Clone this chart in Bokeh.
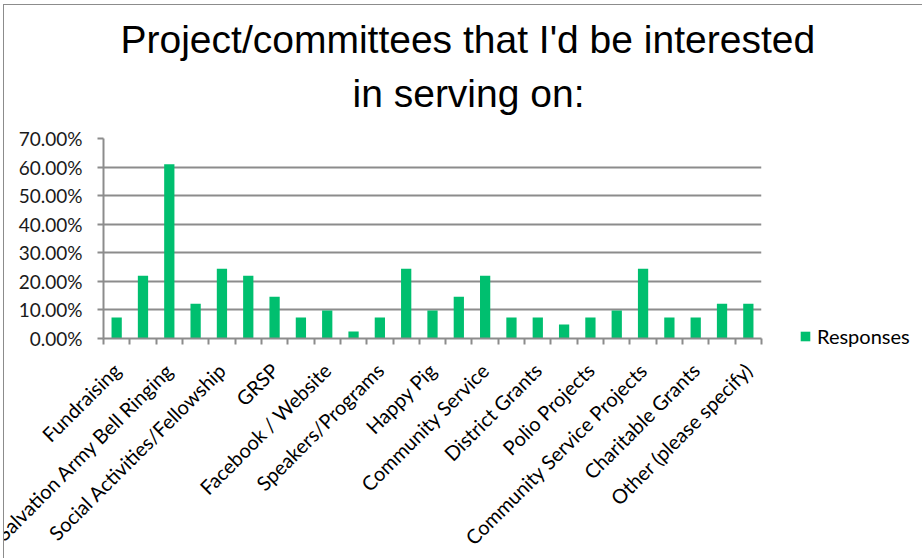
from math import pi
from bokeh.plotting import figure
from bokeh.models import (ColumnDataSource, FixedTicker, NumeralTickFormatter,
                          Legend, LegendItem, Range1d, Title)
from bokeh.embed import file_html
from bokeh.resources import INLINE

# ---- data ----
positions = list(range(1, 26))
responses = [0.0732, 0.2195, 0.6098, 0.1220, 0.2439, 0.2195, 0.1463, 0.0732,
             0.0976, 0.0244, 0.0732, 0.2439, 0.0976, 0.1463, 0.2195, 0.0732,
             0.0732, 0.0488, 0.0732, 0.0976, 0.2439, 0.0732, 0.0732, 0.1220,
             0.1220]
label_positions = list(range(1, 26, 2))
tick_labels = ["Fundraising", "Salvation Army Bell Ringing",
               "Social Activities/Fellowship", "GRSP", "Facebook / Website",
               "Speakers/Programs", "Happy Pig", "Community Service",
               "District Grants", "Polio Projects", "Community Service Projects",
               "Charitable Grants", "Other (please specify)"]
y_ticks = [0.0, 0.1, 0.2, 0.3, 0.4, 0.5, 0.6, 0.7]
series_name = "Responses"
title_line1 = "Project/committees that I'd be interested"
title_line2 = "in serving on:"

GREEN = "#00BF6F"
GREY = "#8c8c8c"
BODY_FONT = "Lato"

src = ColumnDataSource(dict(x=positions, top=responses))

p = figure(frame_width=658, frame_height=200,
           x_range=Range1d(0.5, 25.5), y_range=Range1d(0, 0.7),
           output_backend="svg", toolbar_location=None,
           min_border_left=99, min_border_right=154, min_border_top=133,
           min_border_bottom=219)
p.styles = {"border": "1px solid #8c8c8c"}
p.margin = (4, 0, 0, 3)
p.outline_line_color = None

r = p.vbar(x="x", top="top", width=0.39, source=src, fill_color=GREEN, line_color=None)

# title (two lines, nearest line added first)
def make_title(text, offset, standoff):
    return Title(text=text, align="left", offset=offset, standoff=standoff,
                 text_font="Liberation Sans", text_font_size="39px",
                 text_font_style="normal", text_color="black")

p.title = None
p.add_layout(make_title(title_line2, 249, 48), "above")
p.add_layout(make_title(title_line1, 17, -30), "above")

# x axis
xa = p.xaxis[0]
xa.ticker = FixedTicker(ticks=label_positions, minor_ticks=[i + 0.5 for i in range(0, 26)])
xa.major_label_overrides = {pos: lab for pos, lab in zip(label_positions, tick_labels)}
xa.major_tick_line_color = None
xa.minor_tick_in = 0
xa.minor_tick_out = 6
xa.minor_tick_line_color = GREY
xa.minor_tick_line_width = 2
xa.axis_line_color = GREY
xa.axis_line_width = 2
xa.major_label_orientation = pi / 4
xa.major_label_text_font = BODY_FONT
xa.major_label_text_font_size = "20px"
xa.major_label_text_color = "black"
xa.major_label_standoff = 22

# y axis
ya = p.yaxis[0]
ya.ticker = FixedTicker(ticks=y_ticks)
ya.formatter = NumeralTickFormatter(format="0.00%")
ya.major_tick_in = 0
ya.major_tick_out = 6
ya.major_tick_line_color = GREY
ya.major_tick_line_width = 2
ya.minor_tick_line_color = None
ya.axis_line_color = GREY
ya.axis_line_width = 2
ya.major_label_text_font = BODY_FONT
ya.major_label_text_font_size = "19px"
ya.major_label_text_color = "#1a1a1a"
ya.major_label_standoff = 15

p.xgrid.grid_line_color = None
p.ygrid.grid_line_color = GREY
p.ygrid.grid_line_width = 2

legend = Legend(items=[LegendItem(label=series_name, renderers=[r])],
                location=(38, -10), padding=0, margin=0, spacing=0,
                glyph_width=12, glyph_height=12, label_standoff=6,
                border_line_color=None, background_fill_alpha=0,
                label_text_font=BODY_FONT, label_text_font_size="20px",
                label_text_color="black")
p.add_layout(legend, "right")

open("out.html", "w").write(file_html(p, INLINE))
